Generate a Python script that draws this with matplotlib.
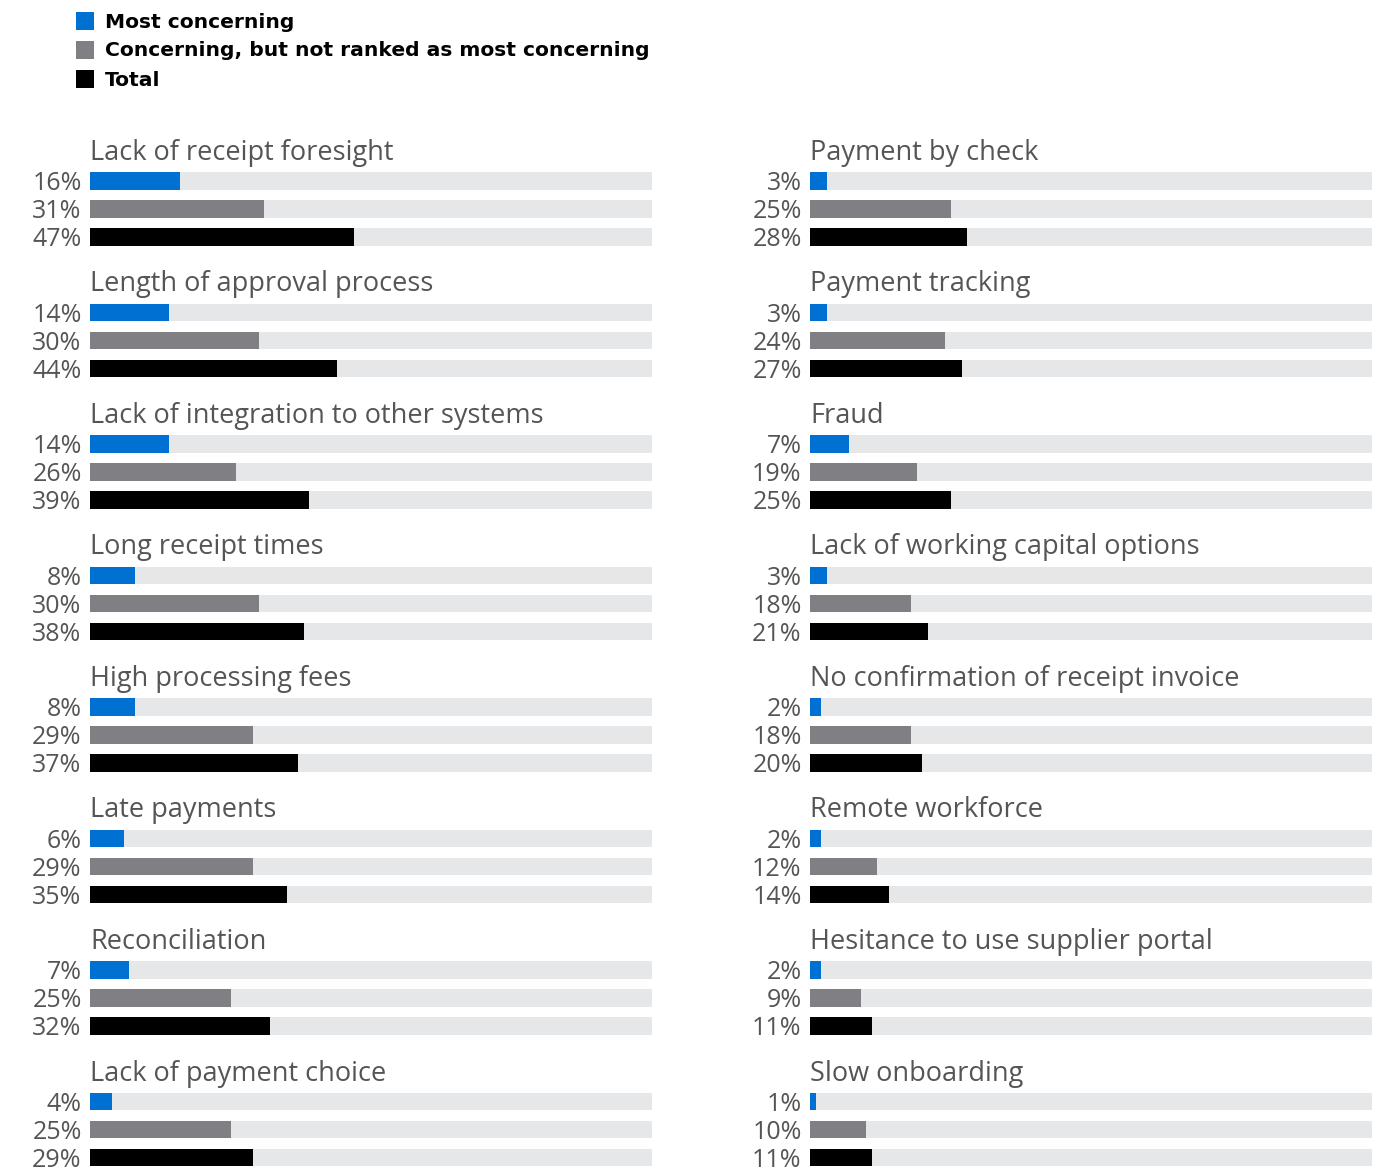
import numpy as np
import matplotlib.pyplot as plt
from matplotlib.patches import Rectangle

# data
left_issues = ["Lack of receipt foresight", "Length of approval process",
               "Lack of integration to other systems", "Long receipt times",
               "High processing fees", "Late payments", "Reconciliation",
               "Lack of payment choice"]
left_most = [16, 14, 14, 8, 8, 6, 7, 4]
left_other = [31, 30, 26, 30, 29, 29, 25, 25]
left_total = [47, 44, 39, 38, 37, 35, 32, 29]

right_issues = ["Payment by check", "Payment tracking", "Fraud",
                "Lack of working capital options",
                "No confirmation of receipt invoice", "Remote workforce",
                "Hesitance to use supplier portal", "Slow onboarding"]
right_most = [3, 3, 7, 3, 2, 2, 2, 1]
right_other = [25, 24, 19, 18, 18, 12, 9, 10]
right_total = [28, 27, 25, 21, 20, 14, 11, 11]

series_names = ["Most concerning", "Concerning, but not ranked as most concerning", "Total"]
colors = ["#0070d2", "#808084", "#000000"]
bg_color = "#e6e7e9"
text_color = "#555555"

W, H = 1385, 1169
fig = plt.figure(figsize=(W / 100, H / 100), dpi=100)

def px_axes(x0, y0, x1, y1):
    return fig.add_axes([x0 / W, 1 - y1 / H, (x1 - x0) / W, (y1 - y0) / H])

ROW = 28.0          # px between bars
GROUP = 131.5 / ROW  # group spacing in rows
FIRST = 181.0       # px of first bar centre

def panel(ax, issues, most, other, total):
    ax.set_xlim(0, 100)
    ax.set_ylim((H - FIRST) / ROW, (130 - FIRST) / ROW)
    ax.axis("off")
    for g, name in enumerate(issues):
        y0 = g * GROUP
        ax.text(0, y0 - 1.0, name, ha="left", va="center", fontsize=19.5,
                color=text_color, family="Open Sans")
        vals = [most[g], other[g], total[g]]
        for r, v in enumerate(vals):
            y = y0 + r
            ax.barh(y, 100, height=0.64, left=0, color=bg_color, lw=0)
            ax.barh(y, v, height=0.64, left=0, color=colors[r], lw=0)
            ax.annotate(f"{v}%", (0, y), xytext=(-6, -2), textcoords="offset points",
                        ha="right", va="center", fontsize=18, color=text_color,
                        family="Open Sans", annotation_clip=False)

ax_l = px_axes(90, 130, 652, H)
panel(ax_l, left_issues, left_most, left_other, left_total)
ax_r = px_axes(810, 130, 1372, H)
panel(ax_r, right_issues, right_most, right_other, right_total)

# legend
for i, (name, c) in enumerate(zip(series_names, colors)):
    yc = 21 + i * 29
    fig.add_artist(Rectangle((76 / W, 1 - (yc + 9) / H), 18 / W, 18 / H,
                             transform=fig.transFigure, color=c, lw=0))
    fig.text(105 / W, 1 - (yc + 1) / H, name, ha="left", va="center", fontsize=14.6,
             fontweight="bold", family="DejaVu Sans", color="black")

fig.savefig("out.png", dpi=100)
